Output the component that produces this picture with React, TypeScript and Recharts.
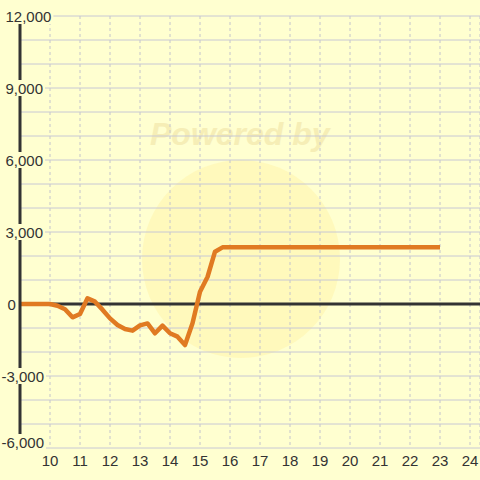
import React from 'react';
import { LineChart, Line, XAxis, YAxis, CartesianGrid, ReferenceLine } from 'recharts';

const hours = [9, 10, 10.25, 10.5, 10.75, 11, 11.25, 11.5, 11.75, 12, 12.25, 12.5, 12.75, 13, 13.25, 13.5, 13.75, 14, 14.25, 14.5, 14.75, 15, 15.25, 15.5, 15.75, 23];
const values = [0, 0, -70, -220, -555, -417, 236, 97, -236, -600, -875, -1040, -1110, -890, -810, -1220, -900, -1220, -1360, -1710, -800, 514, 1125, 2180, 2360, 2360];
const xTicks = [10, 11, 12, 13, 14, 15, 16, 17, 18, 19, 20, 21, 22, 23, 24];
const yTicks = [-6000, -5000, -4000, -3000, -2000, -1000, 0, 1000, 2000, 3000, 4000, 5000, 6000, 7000, 8000, 9000, 10000, 11000, 12000];
const yLabelStep = 3000;

const data = hours.map((h, i) => ({ h, v: values[i] }));

const BG = '#FFFFD0';
const FONT = '"Liberation Sans", Arial, sans-serif';

const fmt = (v: number) => v.toLocaleString('en-US');

const textWidth = (s: string) => {
  let w = 0;
  for (const c of s) w += c === ',' ? 4.17 : c === '-' ? 5 : 8.34;
  return w;
};

const YTick = (props: any) => {
  const { y, payload } = props;
  const v = payload.value;
  if (v % yLabelStep !== 0) return null;
  const s = fmt(v);
  const startX = v < 0 ? 1.5 : v === 0 ? 7.5 : 5.5;
  const yy = v === -6000 ? y - 6 : y;
  const w = textWidth(s);
  return (
    <g>
      <rect x={startX - 1} y={yy - 8} width={w + 3} height={16} fill={BG} />
      <text x={startX} y={yy + 5.5} textAnchor="start" fontSize={15} fontFamily={FONT} fill="#333">
        {s}
      </text>
    </g>
  );
};

const XTick = (props: any) => {
  const { x, payload } = props;
  return (
    <text x={x} y={466} textAnchor="middle" fontSize={15} fontFamily={FONT} fill="#333">
      {payload.value}
    </text>
  );
};

export default function App() {
  return (
    <div style={{ position: 'absolute', left: 0, top: 0, width: 480, height: 480, background: BG, overflow: 'hidden' }}>
      <svg width={480} height={480} style={{ position: 'absolute', left: 0, top: 0 }}>
        <circle cx={241} cy={259} r={99} fill="#FFEE99" opacity={0.35} />
        <text x={150} y={145} fontSize={32} fontWeight="bold" fontStyle="italic" fontFamily={FONT} fill="#F4EAB0" opacity={0.8}>
          Powered by
        </text>
      </svg>
      <div style={{ position: 'absolute', left: 0, top: 0 }}>
        <LineChart width={480} height={480} data={data} margin={{ top: 16, right: 0, left: 0, bottom: 0 }}>
          <CartesianGrid horizontal={false} stroke="#C4C4CC" strokeDasharray="3 3" />
          <CartesianGrid vertical={false} stroke="#C8C8D4" />
          <XAxis
            dataKey="h"
            type="number"
            domain={[9, 24.3333]}
            ticks={xTicks}
            allowDataOverflow
            height={32}
            axisLine={false}
            tickLine={false}
            tick={<XTick />}
            interval={0}
          />
          <ReferenceLine y={0} stroke="#333" strokeWidth={3} />
          <Line
            dataKey="v"
            type="linear"
            stroke="#E07A22"
            strokeWidth={4.5}
            dot={false}
            strokeLinejoin="round"
            isAnimationActive={false}
          />
          <YAxis
            type="number"
            domain={[-6000, 12000]}
            ticks={yTicks}
            width={20}
            interval={0}
            axisLine={{ stroke: '#333', strokeWidth: 3 }}
            tickLine={false}
            tick={<YTick />}
          />
        </LineChart>
      </div>
    </div>
  );
}
